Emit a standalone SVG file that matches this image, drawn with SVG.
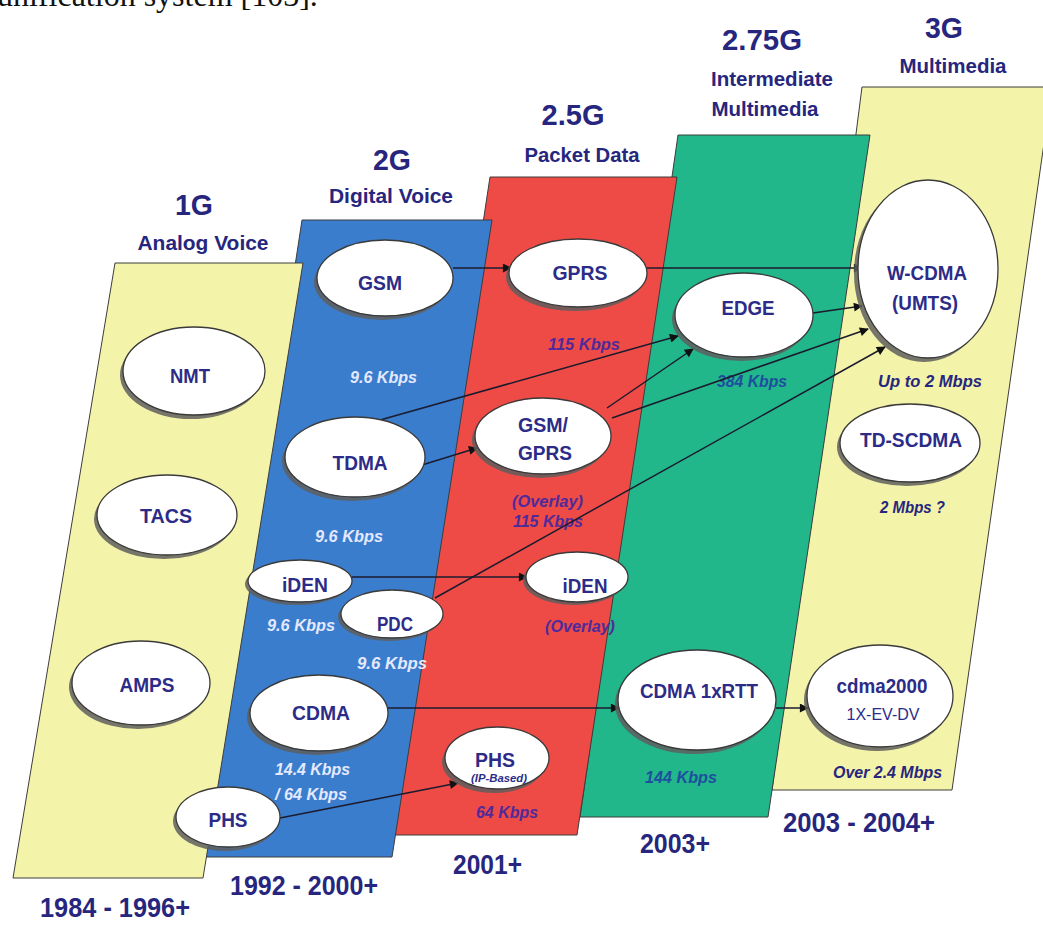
<svg xmlns="http://www.w3.org/2000/svg" width="1043" height="925" viewBox="0 0 1043 925">
<style>
.col{stroke:#3c3c3c;stroke-width:1}
.sh{fill:#5e5e5e;opacity:.85}
.el{fill:#fff;stroke:#3a3a3a;stroke-width:1.3}
text{font-family:"Liberation Sans",Arial,sans-serif;font-weight:bold}
.h1{font-size:30px;fill:#26267e;text-anchor:middle}
.h2{font-size:20px;fill:#26267e;text-anchor:middle}
.ft{font-size:28px;fill:#26267e}
.nd{font-size:21px;fill:#2c2c88;text-anchor:middle}
.kb{font-size:16px;font-style:italic;text-anchor:start}
.w{fill:#e4e9ff}
.p{fill:#4f2a9a}
.b{fill:#1d4f9e}
.n{fill:#26267e}
.cn{stroke:#1b1b2e;stroke-width:1.5;fill:none;marker-end:url(#ah)}
</style>
<defs>
<marker id="ah" viewBox="0 0 10 10" refX="9" refY="5" markerWidth="11" markerHeight="9" markerUnits="userSpaceOnUse" orient="auto">
<path d="M0,0 L10,5 L0,10 z" fill="#111"/>
</marker>
</defs>
<rect width="1043" height="925" fill="#fff"/>
<text x="-3" y="6" style="font-family:'Liberation Serif','Times New Roman',serif;font-weight:normal;font-size:32px;fill:#111">unification system [103].</text>

<g id="columns">
<polygon id="col-3g" class="col" fill="#f4f3aa" points="862,87 1052,87 952,790 772,790"/>
<polygon id="col-275g" class="col" fill="#22b68b" points="678,135 870,135 768,817 580,817"/>
<polygon id="col-25g" class="col" fill="#ee4b47" points="490,177 677,177 577,835 390,835"/>
<polygon id="col-2g" class="col" fill="#3b7dcd" points="302,220 492,220 392,857 205,857"/>
<polygon id="col-1g" class="col" fill="#f4f3aa" points="115,263 303,263 203,878 13,878"/>
</g>

<g id="headers">
<text class="h1" x="194" y="215" textLength="38" lengthAdjust="spacingAndGlyphs">1G</text>
<text class="h2" x="203" y="250" textLength="131" lengthAdjust="spacingAndGlyphs">Analog Voice</text>
<text class="h1" x="392" y="170" textLength="38" lengthAdjust="spacingAndGlyphs">2G</text>
<text class="h2" x="391" y="203" textLength="124" lengthAdjust="spacingAndGlyphs">Digital Voice</text>
<text class="h1" x="573" y="125" textLength="63" lengthAdjust="spacingAndGlyphs">2.5G</text>
<text class="h2" x="582" y="162" textLength="115" lengthAdjust="spacingAndGlyphs">Packet Data</text>
<text class="h1" x="762" y="50" textLength="80" lengthAdjust="spacingAndGlyphs">2.75G</text>
<text class="h2" x="772" y="86" textLength="122" lengthAdjust="spacingAndGlyphs">Intermediate</text>
<text class="h2" x="765" y="116" textLength="107" lengthAdjust="spacingAndGlyphs">Multimedia</text>
<text class="h1" x="944" y="38" textLength="38" lengthAdjust="spacingAndGlyphs">3G</text>
<text class="h2" x="953" y="73" textLength="107" lengthAdjust="spacingAndGlyphs">Multimedia</text>
</g>

<g id="footers">
<text class="ft" x="40" y="917" textLength="150" lengthAdjust="spacingAndGlyphs">1984 - 1996+</text>
<text class="ft" x="230" y="895" textLength="148" lengthAdjust="spacingAndGlyphs">1992 - 2000+</text>
<text class="ft" x="453" y="874" textLength="69" lengthAdjust="spacingAndGlyphs">2001+</text>
<text class="ft" x="640" y="853" textLength="70" lengthAdjust="spacingAndGlyphs">2003+</text>
<text class="ft" x="783" y="832" textLength="152" lengthAdjust="spacingAndGlyphs">2003 - 2004+</text>
</g>

<g id="rates">
<text class="kb w" x="350" y="383" textLength="67" lengthAdjust="spacingAndGlyphs">9.6 Kbps</text>
<text class="kb w" x="315" y="542" textLength="68" lengthAdjust="spacingAndGlyphs">9.6 Kbps</text>
<text class="kb w" x="267" y="631" textLength="68" lengthAdjust="spacingAndGlyphs">9.6 Kbps</text>
<text class="kb w" x="357" y="669" textLength="70" lengthAdjust="spacingAndGlyphs">9.6 Kbps</text>
<text class="kb w" x="275" y="775" textLength="75" lengthAdjust="spacingAndGlyphs">14.4 Kbps</text>
<text class="kb w" x="275" y="800" textLength="72" lengthAdjust="spacingAndGlyphs">/ 64 Kbps</text>
<text class="kb p" x="548" y="350" textLength="72" lengthAdjust="spacingAndGlyphs">115 Kbps</text>
<text class="kb p" x="512" y="507" textLength="71" lengthAdjust="spacingAndGlyphs">(Overlay)</text>
<text class="kb p" x="513" y="527" textLength="70" lengthAdjust="spacingAndGlyphs">115 Kbps</text>
<text class="kb p" x="545" y="632" textLength="70" lengthAdjust="spacingAndGlyphs">(Overlay)</text>
<text class="kb p" x="476" y="818" textLength="62" lengthAdjust="spacingAndGlyphs">64 Kbps</text>
<text class="kb b" x="717" y="387" textLength="70" lengthAdjust="spacingAndGlyphs">384 Kbps</text>
<text class="kb b" x="645" y="783" textLength="72" lengthAdjust="spacingAndGlyphs">144 Kbps</text>
<text class="kb n" x="878" y="387" textLength="104" lengthAdjust="spacingAndGlyphs">Up to 2 Mbps</text>
<text class="kb n" x="880" y="513" textLength="65" lengthAdjust="spacingAndGlyphs">2 Mbps ?</text>
<text class="kb n" x="833" y="778" textLength="109" lengthAdjust="spacingAndGlyphs">Over 2.4 Mbps</text>
</g>

<g id="connectors">
<line class="cn" x1="453" y1="268" x2="511" y2="268"/>
<line class="cn" x1="647" y1="268" x2="862" y2="268"/>
<line class="cn" x1="373" y1="422" x2="678" y2="336"/>
<line class="cn" x1="422" y1="465" x2="477" y2="448"/>
<line class="cn" x1="607" y1="408" x2="693" y2="349"/>
<line class="cn" x1="612" y1="418" x2="868" y2="329"/>
<line class="cn" x1="813" y1="313" x2="862" y2="306"/>
<line class="cn" x1="352" y1="577" x2="527" y2="577"/>
<line class="cn" x1="435" y1="598" x2="885" y2="347"/>
<line class="cn" x1="388" y1="708" x2="619" y2="708"/>
<line class="cn" x1="776" y1="708" x2="808" y2="708"/>
<line class="cn" x1="280" y1="818" x2="458" y2="783"/>
</g>

<g id="node-nmt"><ellipse class="sh" cx="191" cy="375" rx="71" ry="44"/><ellipse class="el" cx="194" cy="371" rx="71" ry="44"/><text class="nd" x="190" y="383" textLength="40" lengthAdjust="spacingAndGlyphs">NMT</text></g>
<g id="node-tacs"><ellipse class="sh" cx="164" cy="519" rx="70" ry="40"/><ellipse class="el" cx="167" cy="515" rx="70" ry="40"/><text class="nd" x="166" y="523" textLength="52" lengthAdjust="spacingAndGlyphs">TACS</text></g>
<g id="node-amps"><ellipse class="sh" cx="138" cy="687" rx="69" ry="42"/><ellipse class="el" cx="141" cy="683" rx="69" ry="42"/><text class="nd" x="147" y="692" textLength="55" lengthAdjust="spacingAndGlyphs">AMPS</text></g>
<g id="node-gsm"><ellipse class="sh" cx="382" cy="282" rx="68" ry="38"/><ellipse class="el" cx="385" cy="278" rx="68" ry="38"/><text class="nd" x="380" y="290" textLength="44" lengthAdjust="spacingAndGlyphs">GSM</text></g>
<g id="node-tdma"><ellipse class="sh" cx="352" cy="461" rx="70" ry="40"/><ellipse class="el" cx="355" cy="457" rx="70" ry="40"/><text class="nd" x="360" y="470" textLength="55" lengthAdjust="spacingAndGlyphs">TDMA</text></g>
<g id="node-iden"><ellipse class="sh" cx="297" cy="584" rx="52" ry="21"/><ellipse class="el" cx="300" cy="581" rx="52" ry="21"/><text class="nd" x="305" y="592" textLength="46" lengthAdjust="spacingAndGlyphs">iDEN</text></g>
<g id="node-pdc"><ellipse class="sh" cx="389" cy="617" rx="51" ry="24"/><ellipse class="el" cx="392" cy="614" rx="51" ry="24"/><text class="nd" x="395" y="631" textLength="36" lengthAdjust="spacingAndGlyphs">PDC</text></g>
<g id="node-cdma"><ellipse class="sh" cx="316" cy="717" rx="69" ry="38"/><ellipse class="el" cx="319" cy="713" rx="69" ry="38"/><text class="nd" x="321" y="720" textLength="58" lengthAdjust="spacingAndGlyphs">CDMA</text></g>
<g id="node-phs"><ellipse class="sh" cx="225" cy="821" rx="52" ry="30"/><ellipse class="el" cx="228" cy="817" rx="52" ry="30"/><text class="nd" x="228" y="827" textLength="39" lengthAdjust="spacingAndGlyphs">PHS</text></g>
<g id="node-gprs"><ellipse class="sh" cx="575" cy="277" rx="69" ry="34"/><ellipse class="el" cx="578" cy="273" rx="69" ry="34"/><text class="nd" x="580" y="280" textLength="55" lengthAdjust="spacingAndGlyphs">GPRS</text></g>
<g id="node-gsm-gprs"><ellipse class="sh" cx="540" cy="440" rx="68" ry="38"/><ellipse class="el" cx="543" cy="436" rx="68" ry="38"/><text class="nd" x="543" y="432" textLength="50" lengthAdjust="spacingAndGlyphs">GSM/</text><text class="nd" x="545" y="460" textLength="54" lengthAdjust="spacingAndGlyphs">GPRS</text></g>
<g id="node-iden-overlay"><ellipse class="sh" cx="574" cy="580" rx="51" ry="25"/><ellipse class="el" cx="577" cy="577" rx="51" ry="25"/><text class="nd" x="585" y="593" textLength="45" lengthAdjust="spacingAndGlyphs">iDEN</text></g>
<g id="node-phs-ip"><ellipse class="sh" cx="494" cy="762" rx="52" ry="31"/><ellipse class="el" cx="497" cy="758" rx="52" ry="31"/><text class="nd" x="495" y="767" textLength="40" lengthAdjust="spacingAndGlyphs">PHS</text><text x="499" y="782" style="font-size:11px;font-style:italic;fill:#2c2c88;text-anchor:middle" textLength="56" lengthAdjust="spacingAndGlyphs">(IP-Based)</text></g>
<g id="node-edge"><ellipse class="sh" cx="741" cy="319" rx="69" ry="42"/><ellipse class="el" cx="744" cy="315" rx="69" ry="42"/><text class="nd" x="748" y="315" textLength="53" lengthAdjust="spacingAndGlyphs">EDGE</text></g>
<g id="node-cdma1x"><ellipse class="sh" cx="694" cy="704" rx="79" ry="50"/><ellipse class="el" cx="697" cy="700" rx="79" ry="50"/><text class="nd" x="699" y="698" textLength="118" lengthAdjust="spacingAndGlyphs">CDMA 1xRTT</text></g>
<g id="node-wcdma"><ellipse class="sh" cx="924" cy="273" rx="70" ry="89"/><ellipse class="el" cx="928" cy="269" rx="70" ry="89"/><text class="nd" x="927" y="280" textLength="80" lengthAdjust="spacingAndGlyphs">W-CDMA</text><text class="nd" x="925" y="310" textLength="66" lengthAdjust="spacingAndGlyphs">(UMTS)</text></g>
<g id="node-tdscdma"><ellipse class="sh" cx="907" cy="447" rx="70" ry="39"/><ellipse class="el" cx="910" cy="443" rx="70" ry="39"/><text class="nd" x="911" y="447" textLength="102" lengthAdjust="spacingAndGlyphs">TD-SCDMA</text></g>
<g id="node-cdma2000"><ellipse class="sh" cx="877" cy="700" rx="73" ry="51"/><ellipse class="el" cx="880" cy="696" rx="73" ry="51"/><text class="nd" x="882" y="693" textLength="91" lengthAdjust="spacingAndGlyphs">cdma2000</text><text x="883" y="720" style="font-size:17px;font-weight:normal;fill:#2c2c88;text-anchor:middle" textLength="73" lengthAdjust="spacingAndGlyphs">1X-EV-DV</text></g>
</svg>
